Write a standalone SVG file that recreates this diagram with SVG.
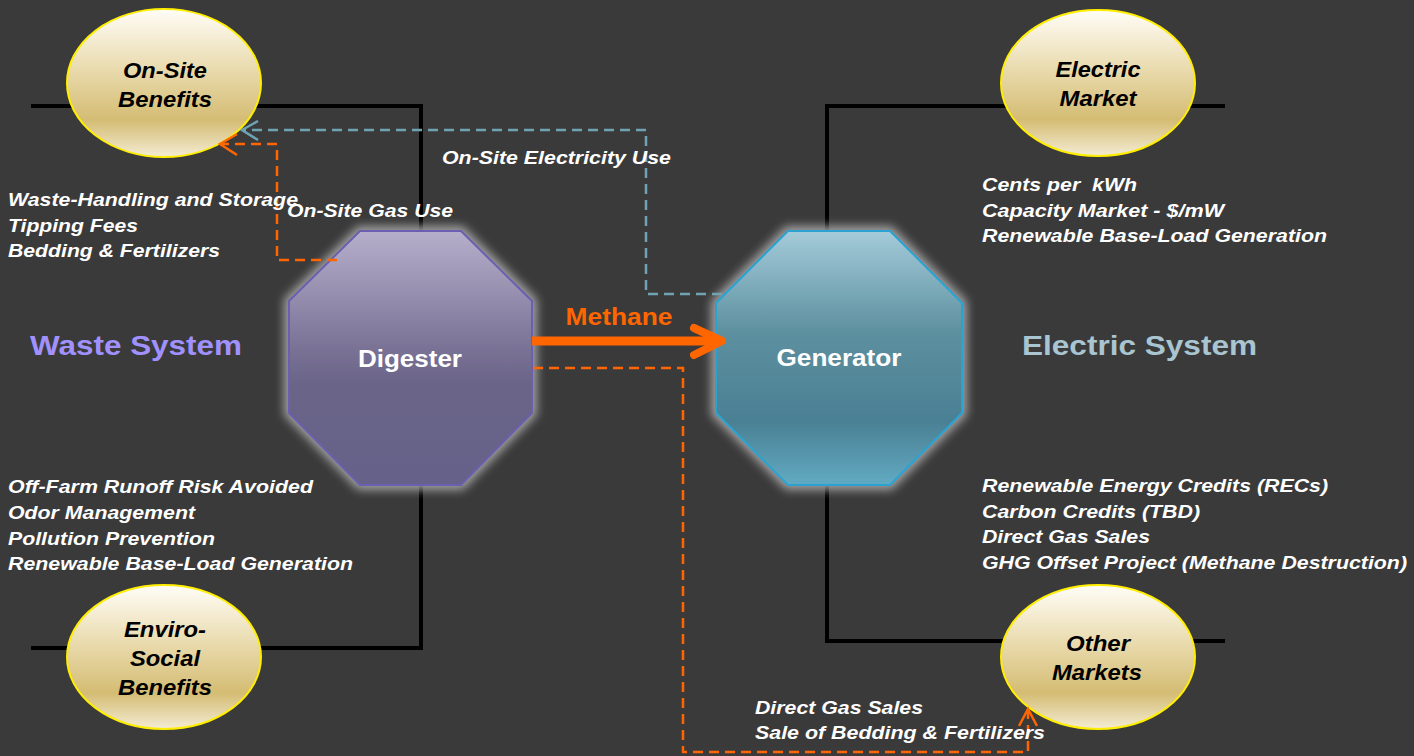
<svg xmlns="http://www.w3.org/2000/svg" width="1414" height="756" viewBox="0 0 1414 756">
<defs>
<linearGradient id="gEll" x1="0" y1="0" x2="0" y2="1">
<stop offset="0" stop-color="#fffdf7"/><stop offset="0.45" stop-color="#e7d7a6"/><stop offset="0.75" stop-color="#d4bc73"/><stop offset="1" stop-color="#f4ecd4"/>
</linearGradient>
<linearGradient id="gDig" x1="0" y1="0" x2="0" y2="1">
<stop offset="0" stop-color="#b6afcb"/><stop offset="0.45" stop-color="#7b7497"/><stop offset="0.6" stop-color="#6a6488"/><stop offset="1" stop-color="#666189"/>
</linearGradient>
<linearGradient id="gGen" x1="0" y1="0" x2="0" y2="1">
<stop offset="0" stop-color="#a4cbda"/><stop offset="0.4" stop-color="#5d909f"/><stop offset="0.75" stop-color="#4a8094"/><stop offset="1" stop-color="#61aac2"/>
</linearGradient>
<filter id="glow" x="-20%" y="-20%" width="140%" height="140%"><feGaussianBlur stdDeviation="5"/></filter>
<style>
.bl{fill:none;stroke:#000;stroke-width:4}
.ell{fill:url(#gEll);stroke:#ffee00;stroke-width:2}
.et{font-family:"Liberation Sans",Arial,sans-serif;font-weight:bold;font-style:italic;font-size:22px;fill:#000;text-anchor:middle}
.wt{font-family:"Liberation Sans",Arial,sans-serif;font-weight:bold;font-style:italic;font-size:19px;fill:#fff}
.nt{font-family:"Liberation Sans",Arial,sans-serif;font-weight:bold;font-size:23px;fill:#fff;text-anchor:middle}
.ht{font-family:"Liberation Sans",Arial,sans-serif;font-weight:bold;font-size:28px}
.halo{fill:#a0a0a0;stroke:#a0a0a0;stroke-width:10;filter:url(#glow)}
.od{fill:none;stroke:#ff6600;stroke-width:2.5;stroke-dasharray:10 6}
.bd{fill:none;stroke:#6fa3b3;stroke-width:2.5;stroke-dasharray:10 6}
.oa{fill:none;stroke:#ff6600;stroke-width:2.5}
.ba{fill:none;stroke:#6fa3b3;stroke-width:2.5}
</style>
</defs>
<rect width="1414" height="756" fill="#3a3a3a"/>
<g id="frame-lines">
<polyline class="bl" points="31,106 421,106 421,232"/>
<polyline class="bl" points="421,484 421,648 31,648"/>
<polyline class="bl" points="1225,106 827,106 827,232"/>
<polyline class="bl" points="827,484 827,641 1225,641"/>
</g>
<g id="onsite-benefits">
<ellipse class="ell" cx="164" cy="83" rx="97" ry="74"/>
<text class="et" x="165" y="78" textLength="84" lengthAdjust="spacingAndGlyphs">On-Site</text>
<text class="et" x="165" y="107" textLength="94" lengthAdjust="spacingAndGlyphs">Benefits</text>
</g>
<g id="enviro-social-benefits">
<ellipse class="ell" cx="164" cy="657" rx="97" ry="72"/>
<text class="et" x="165" y="637" textLength="82" lengthAdjust="spacingAndGlyphs">Enviro-</text>
<text class="et" x="165" y="666" textLength="70" lengthAdjust="spacingAndGlyphs">Social</text>
<text class="et" x="165" y="695" textLength="94" lengthAdjust="spacingAndGlyphs">Benefits</text>
</g>
<g id="electric-market">
<ellipse class="ell" cx="1098" cy="83" rx="97" ry="73"/>
<text class="et" x="1098" y="77" textLength="85" lengthAdjust="spacingAndGlyphs">Electric</text>
<text class="et" x="1098" y="106" textLength="77" lengthAdjust="spacingAndGlyphs">Market</text>
</g>
<g id="other-markets">
<ellipse class="ell" cx="1098" cy="657" rx="97" ry="72"/>
<text class="et" x="1098" y="651" textLength="64" lengthAdjust="spacingAndGlyphs">Other</text>
<text class="et" x="1097" y="680" textLength="90" lengthAdjust="spacingAndGlyphs">Markets</text>
</g>
<g id="digester">
<polygon class="halo" points="360,231 461,231 532,301 532,413 461,485 360,485 289,413 289,301"/>
<polygon points="360,231 461,231 532,301 532,413 461,485 360,485 289,413 289,301" fill="url(#gDig)" stroke="#6a5fb0" stroke-width="2"/>
<text class="nt" x="410" y="367" textLength="104" lengthAdjust="spacingAndGlyphs">Digester</text>
</g>
<g id="generator">
<polygon class="halo" points="788,231 890,231 962,303 962,413 890,485 788,485 716,413 716,303"/>
<polygon points="788,231 890,231 962,303 962,413 890,485 788,485 716,413 716,303" fill="url(#gGen)" stroke="#2aa3d2" stroke-width="2"/>
<text class="nt" x="839" y="366" textLength="125" lengthAdjust="spacingAndGlyphs">Generator</text>
</g>
<g id="connectors">
<polyline class="bd" points="722,294 646,294 646,130 243,130"/>
<polyline class="ba" points="258,121 242,130 258,140"/>
<polyline class="od" points="337,260 277,260 277,144 222,144"/>
<polyline class="oa" points="237,134 220,144 237,155"/>
<polyline class="od" points="533,368 683,368 683,752 1028,752 1028,712"/>
<polyline class="oa" points="1019,726 1028,709 1037,726"/>
<line x1="532" y1="341" x2="720" y2="341" stroke="#ff6600" stroke-width="9"/>
<polyline points="694,328 722,341 694,355" fill="none" stroke="#ff6600" stroke-width="8" stroke-linecap="round" stroke-linejoin="round"/>
<text x="619" y="325" font-family="Liberation Sans,Arial,sans-serif" font-weight="bold" font-size="24" fill="#ff6600" text-anchor="middle" textLength="107" lengthAdjust="spacingAndGlyphs">Methane</text>
<text class="wt" x="442" y="164" textLength="229" lengthAdjust="spacingAndGlyphs">On-Site Electricity Use</text>
<text class="wt" x="287" y="217" textLength="166" lengthAdjust="spacingAndGlyphs">On-Site Gas Use</text>
<text class="wt" x="755" y="714" textLength="168" lengthAdjust="spacingAndGlyphs">Direct Gas Sales</text>
<text class="wt" x="755" y="739" textLength="290" lengthAdjust="spacingAndGlyphs">Sale of Bedding &amp; Fertilizers</text>
</g>
<g id="labels">
<text class="ht" x="30" y="355" fill="#a091ff" textLength="212" lengthAdjust="spacingAndGlyphs">Waste System</text>
<text class="ht" x="1022" y="355" fill="#a9c5d2" textLength="235" lengthAdjust="spacingAndGlyphs">Electric System</text>
<text class="wt" x="8" y="206" textLength="290" lengthAdjust="spacingAndGlyphs">Waste-Handling and Storage</text>
<text class="wt" x="8" y="232" textLength="130" lengthAdjust="spacingAndGlyphs">Tipping Fees</text>
<text class="wt" x="8" y="257" textLength="212" lengthAdjust="spacingAndGlyphs">Bedding &amp; Fertilizers</text>
<text class="wt" x="8" y="493" textLength="305" lengthAdjust="spacingAndGlyphs">Off-Farm Runoff Risk Avoided</text>
<text class="wt" x="8" y="519" textLength="187" lengthAdjust="spacingAndGlyphs">Odor Management</text>
<text class="wt" x="8" y="545" textLength="207" lengthAdjust="spacingAndGlyphs">Pollution Prevention</text>
<text class="wt" x="8" y="570" textLength="345" lengthAdjust="spacingAndGlyphs">Renewable Base-Load Generation</text>
<text class="wt" x="982" y="191" textLength="155" lengthAdjust="spacingAndGlyphs" xml:space="preserve">Cents per  kWh</text>
<text class="wt" x="982" y="217" textLength="242" lengthAdjust="spacingAndGlyphs">Capacity Market - $/mW</text>
<text class="wt" x="982" y="242" textLength="345" lengthAdjust="spacingAndGlyphs">Renewable Base-Load Generation</text>
<text class="wt" x="982" y="492" textLength="346" lengthAdjust="spacingAndGlyphs">Renewable Energy Credits (RECs)</text>
<text class="wt" x="982" y="518" textLength="218" lengthAdjust="spacingAndGlyphs">Carbon Credits (TBD)</text>
<text class="wt" x="982" y="543" textLength="168" lengthAdjust="spacingAndGlyphs">Direct Gas Sales</text>
<text class="wt" x="982" y="569" textLength="425" lengthAdjust="spacingAndGlyphs">GHG Offset Project (Methane Destruction)</text>
</g>
</svg>
